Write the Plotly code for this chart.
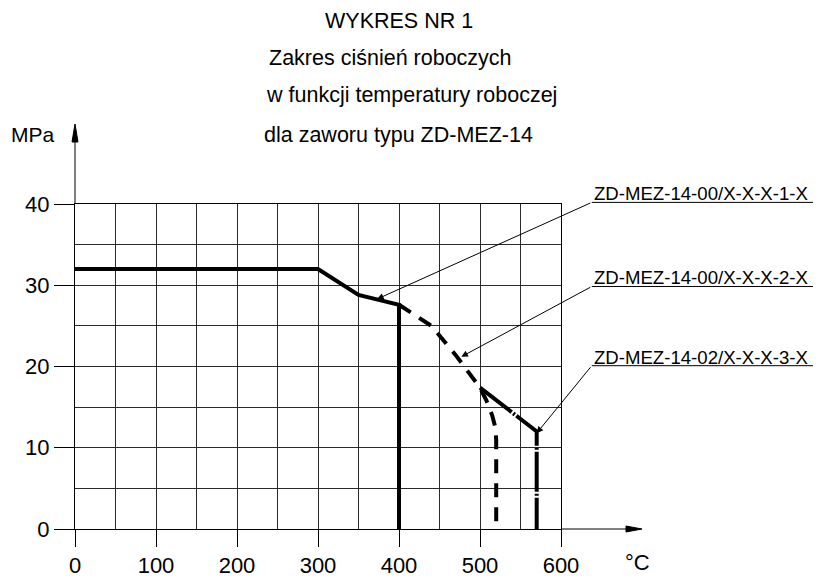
import plotly.graph_objects as go

# ---------------- data ----------------
temp_solid = [0, 300, 350, 400, 400]
press_solid = [32, 32, 28.8, 27.6, 0]

temp_dash = [400, 440, 470, 500, 508, 515, 519, 520, 520]
press_dash = [27.6, 25.0, 21.4, 17.4, 15.8, 14.0, 12.5, 11.0, 0]

temp_dashdot = [500, 570, 570]
press_dashdot = [17.4, 12.0, 0]

x_tick_vals = [0, 100, 200, 300, 400, 500, 600]
y_tick_vals = [0, 10, 20, 30, 40]

labels = ["ZD-MEZ-14-00/X-X-X-1-X", "ZD-MEZ-14-00/X-X-X-2-X", "ZD-MEZ-14-02/X-X-X-3-X"]
label_point_x = [373, 477, 570]
label_point_y = [28.3, 21.2, 11.8]
label_anchor_x = [638, 638, 638]
label_anchor_y = [40.2, 29.85, 20.1]
label_end_x = 917

title_lines = ["WYKRES NR 1", "Zakres ciśnień roboczych",
               "w funkcji temperatury roboczej", "dla zaworu typu ZD-MEZ-14"]

# ---------------- layout helpers ----------------
FONT = "Liberation Sans, Arial, sans-serif"
X0, X1 = 0, 600
Y0, Y1 = 0, 40
OFF = 8                      # page body margin of the generated html
W, H = 821 - OFF, 581 - OFF
ML, MT = 75 - OFF, 204 - OFF
PW, PH = 486, 325
MR, MB = W - ML - PW, H - MT - PH
GRID = "#2a2a2a"


def xp(x):
    return (x - X0) / (X1 - X0)


def yp(y):
    return (y - Y0) / (Y1 - Y0)


def pxp(px):  # screen pixel -> paper
    return (px - OFF - ML) / PW


def pyp(py):
    return (MT + PH + OFF - py) / PH


fig = go.Figure()
fig.add_trace(go.Scatter(x=temp_solid, y=press_solid, mode="lines",
                         line=dict(color="black", width=4), showlegend=False,
                         cliponaxis=False))
fig.add_trace(go.Scatter(x=temp_dash, y=press_dash, mode="lines",
                         line=dict(color="black", width=4, dash="14px,10px"),
                         showlegend=False, cliponaxis=False))
fig.add_trace(go.Scatter(x=temp_dashdot, y=press_dashdot, mode="lines",
                         line=dict(color="black", width=4, dash="40px,2px,2px,2px"),
                         showlegend=False, cliponaxis=False))

shapes = []
# axis extensions with arrowheads
shapes.append(dict(type="line", xref="paper", yref="paper", x0=1, y0=0,
                   x1=pxp(630), y1=0, line=dict(color="black", width=1)))
shapes.append(dict(type="path", xref="paper", yref="paper",
                   path=f"M{pxp(642)},0 L{pxp(626)},{3/PH} L{pxp(626)},{-3/PH} Z",
                   fillcolor="black", line=dict(color="black", width=1)))
shapes.append(dict(type="line", xref="paper", yref="paper", x0=0, y0=1,
                   x1=0, y1=pyp(138), line=dict(color="black", width=1)))
shapes.append(dict(type="path", xref="paper", yref="paper",
                   path=f"M0,{pyp(124)} L{3/PW},{pyp(142)} L{-3/PW},{pyp(142)} Z",
                   fillcolor="black", line=dict(color="black", width=1)))
# label underlines
for ax_, ay_ in zip(label_anchor_x, label_anchor_y):
    shapes.append(dict(type="line", xref="paper", yref="paper",
                       x0=xp(ax_), y0=yp(ay_), x1=xp(label_end_x), y1=yp(ay_),
                       line=dict(color="black", width=1)))

annotations = []
# leader arrows
for hx, hy, tx, ty in zip(label_point_x, label_point_y, label_anchor_x, label_anchor_y):
    annotations.append(dict(x=hx, y=hy, xref="x", yref="y", ax=tx, ay=ty,
                            axref="x", ayref="y", text="", showarrow=True,
                            arrowhead=2, arrowsize=1.3, arrowwidth=1,
                            arrowcolor="black", standoff=0, startstandoff=0))
# label texts
for t, ax_, ay_ in zip(labels, label_anchor_x, label_anchor_y):
    annotations.append(dict(x=xp(ax_), y=yp(ay_), xref="paper", yref="paper",
                            text=t, showarrow=False, xanchor="left", yanchor="bottom",
                            yshift=-4, font=dict(family=FONT, size=18.6, color="black")))
# title lines
title_pos = [(399, 20.5), (390, 57.5), (411, 95.5), (398, 135)]
for t, (cx, cy) in zip(title_lines, title_pos):
    annotations.append(dict(x=pxp(cx), y=pyp(cy), xref="paper", yref="paper", text=t,
                            showarrow=False, xanchor="center", yanchor="middle",
                            font=dict(family=FONT, size=21.5, color="black")))
# axis unit labels
annotations.append(dict(x=pxp(33), y=pyp(134), xref="paper", yref="paper", text="MPa",
                        showarrow=False, xanchor="center", yanchor="middle",
                        font=dict(family=FONT, size=21, color="black")))
annotations.append(dict(x=pxp(637), y=pyp(562), xref="paper", yref="paper", text="°C",
                        showarrow=False, xanchor="center", yanchor="middle",
                        font=dict(family=FONT, size=22, color="black")))

fig.update_layout(
    template="none",
    width=W, height=H,
    margin=dict(l=ML, r=MR, t=MT, b=MB, pad=0),
    paper_bgcolor="white", plot_bgcolor="white",
    showlegend=False,
    shapes=shapes,
    annotations=annotations,
    xaxis=dict(range=[X0, X1], tickmode="array", tickvals=x_tick_vals,
               ticktext=[str(v) for v in x_tick_vals],
               ticks="outside", ticklen=17, tickwidth=1, tickcolor="black",
               showgrid=True, gridcolor=GRID, gridwidth=1,
               minor=dict(dtick=50, tick0=0, showgrid=True, gridcolor=GRID, gridwidth=1),
               showline=True, linecolor="black", linewidth=1, mirror=True,
               zeroline=False, automargin=False,
               tickfont=dict(family=FONT, size=22, color="black")),
    yaxis=dict(range=[Y0, Y1], tickmode="array", tickvals=y_tick_vals,
               ticktext=[str(v) for v in y_tick_vals],
               ticks="outside", ticklen=20, tickwidth=1, tickcolor="black",
               showgrid=True, gridcolor=GRID, gridwidth=1,
               minor=dict(dtick=5, tick0=0, showgrid=True, gridcolor=GRID, gridwidth=1),
               showline=True, linecolor="black", linewidth=1, mirror=True,
               zeroline=False, automargin=False,
               tickfont=dict(family=FONT, size=22, color="black")),
)

fig.write_html("out.html")
